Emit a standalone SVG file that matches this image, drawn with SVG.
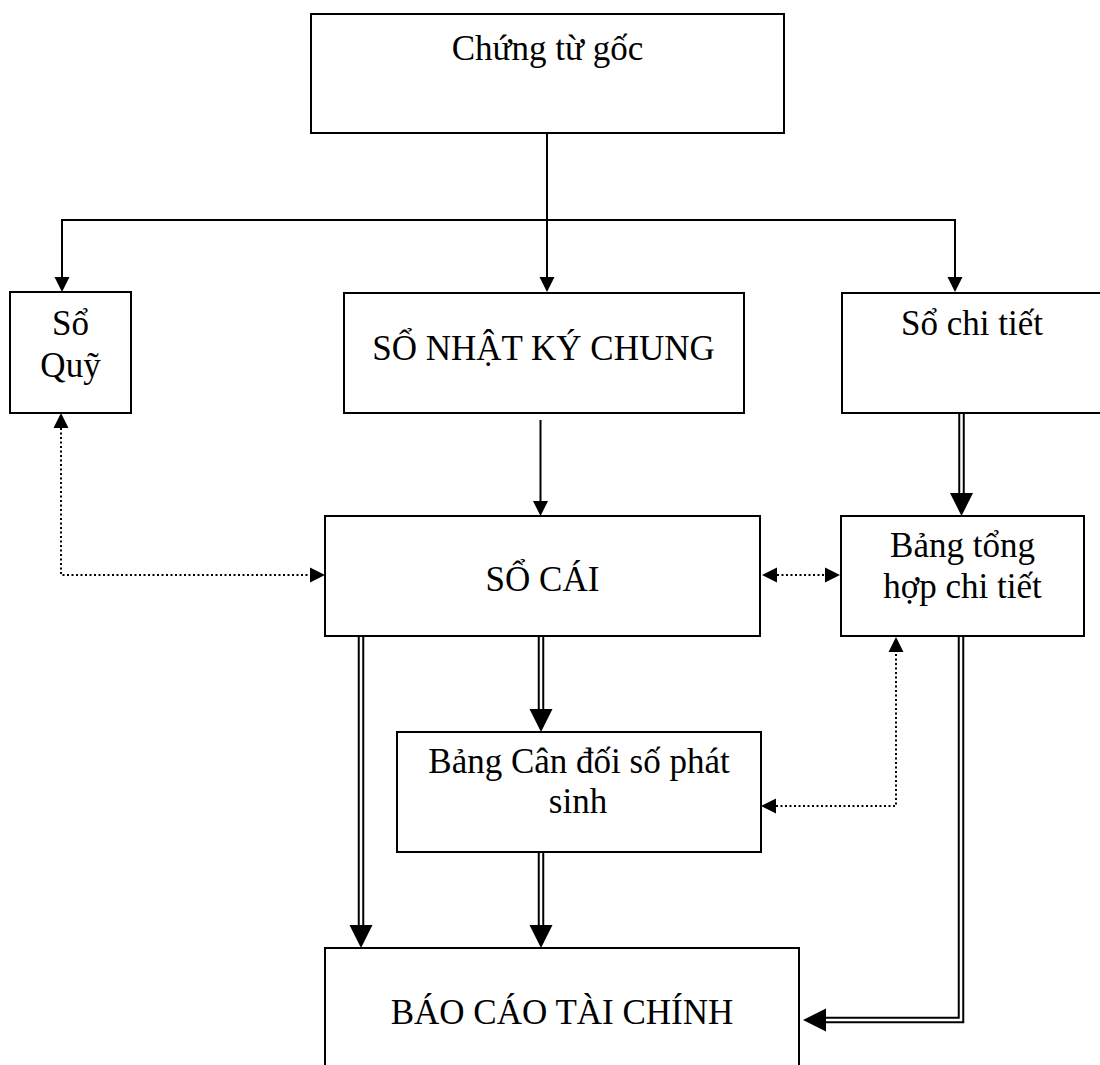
<svg xmlns="http://www.w3.org/2000/svg" width="1100" height="1065" viewBox="0 0 1100 1065">
  <style>
    .box { fill: #fff; stroke: #000; stroke-width: 2; }
    .lbl { font-family: "Liberation Serif", "Times New Roman", serif; font-size: 35px; fill: #000; text-anchor: middle; }
    .line { fill: none; stroke: #000; stroke-width: 2; }
    .dot { fill: none; stroke: #000; stroke-width: 2; stroke-dasharray: 2 2.5; }
    .dbl-out { fill: none; stroke: #000; stroke-width: 6.5; stroke-linejoin: miter; }
    .dbl-in { fill: none; stroke: #fff; stroke-width: 2.5; stroke-linejoin: miter; }
  </style>
  <defs>
    <marker id="arr" markerUnits="userSpaceOnUse" markerWidth="15" markerHeight="15" viewBox="0 0 15 15" refX="0" refY="7.5" orient="auto-start-reverse" overflow="visible">
      <path d="M0,0 L15,7.5 L0,15 Z" fill="#000"/>
    </marker>
    <marker id="big" markerUnits="userSpaceOnUse" markerWidth="23" markerHeight="23" viewBox="0 0 23 23" refX="0" refY="11.5" orient="auto" overflow="visible">
      <path d="M0,0 L23,11.5 L0,23 Z" fill="#000"/>
    </marker>
  </defs>

  <rect width="1100" height="1065" fill="#fff"/>

  <g id="connectors">
    <!-- solid single arrows -->
    <path class="line" d="M547,133 V277" marker-end="url(#arr)"/>
    <path class="line" d="M62,277 V220 H955 V277" marker-start="url(#arr)" marker-end="url(#arr)"/>
    <path class="line" d="M540.5,420 V501" marker-end="url(#arr)"/>

    <!-- dotted two-way links -->
    <path class="dot" d="M61,428 V575 H310" marker-start="url(#arr)" marker-end="url(#arr)"/>
    <path class="dot" d="M777,575 H825" marker-start="url(#arr)" marker-end="url(#arr)"/>
    <path class="dot" d="M776,806 H896 V652" marker-start="url(#arr)" marker-end="url(#arr)"/>

    <!-- double-line arrows -->
    <path class="dbl-out" d="M961.5,413 V493" marker-end="url(#big)"/>
    <path class="dbl-in" d="M961.5,413 V493"/>
    <path class="dbl-out" d="M361,636 V925" marker-end="url(#big)"/>
    <path class="dbl-in" d="M361,636 V925"/>
    <path class="dbl-out" d="M541,636 V709" marker-end="url(#big)"/>
    <path class="dbl-in" d="M541,636 V709"/>
    <path class="dbl-out" d="M541,852 V925" marker-end="url(#big)"/>
    <path class="dbl-in" d="M541,852 V925"/>
    <path class="dbl-out" d="M961,636 V1020 H826" marker-end="url(#big)"/>
    <path class="dbl-in" d="M961,636 V1020 H826"/>
  </g>

  <g id="chung-tu-goc">
    <rect class="box" x="311" y="14" width="473" height="119"/>
    <text class="lbl" x="547.5" y="60">Chứng từ gốc</text>
  </g>

  <g id="so-quy">
    <rect class="box" x="10" y="292" width="121" height="121"/>
    <text class="lbl" x="70.5" y="335">Sổ</text>
    <text class="lbl" x="70.5" y="377">Quỹ</text>
  </g>

  <g id="so-nhat-ky-chung">
    <rect class="box" x="344" y="293" width="400" height="120"/>
    <text class="lbl" x="543.5" y="360">SỔ NHẬT KÝ CHUNG</text>
  </g>

  <g id="so-chi-tiet">
    <rect class="box" x="842" y="293" width="262" height="120"/>
    <text class="lbl" x="972" y="335">Sổ chi tiết</text>
  </g>

  <g id="so-cai">
    <rect class="box" x="325" y="516" width="435" height="120"/>
    <text class="lbl" x="542.5" y="591">SỔ CÁI</text>
  </g>

  <g id="bang-tong-hop-chi-tiet">
    <rect class="box" x="841" y="516" width="243" height="120"/>
    <text class="lbl" x="962.5" y="557">Bảng tổng</text>
    <text class="lbl" x="962.5" y="598">hợp chi tiết</text>
  </g>

  <g id="bang-can-doi-so-phat-sinh">
    <rect class="box" x="397" y="732" width="364" height="120"/>
    <text class="lbl" x="579" y="773">Bảng Cân đối số phát</text>
    <text class="lbl" x="578" y="813">sinh</text>
  </g>

  <g id="bao-cao-tai-chinh">
    <rect class="box" x="325" y="948" width="474" height="130"/>
    <text class="lbl" x="562" y="1024">BÁO CÁO TÀI CHÍNH</text>
  </g>
</svg>
